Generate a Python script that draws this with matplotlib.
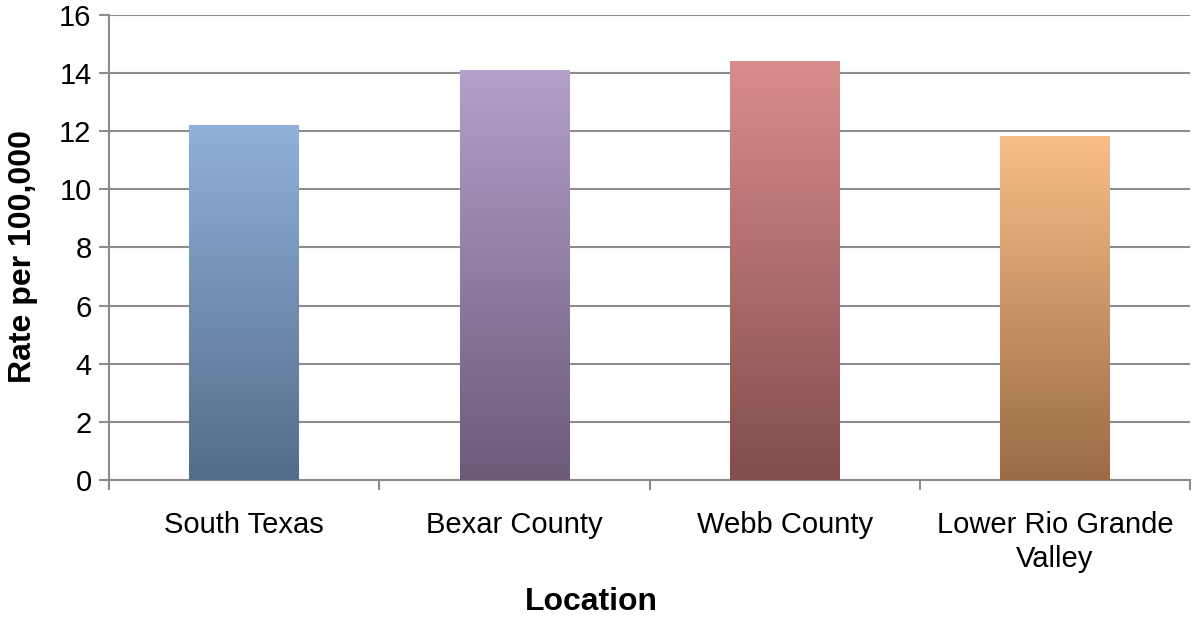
import numpy as np
import matplotlib.pyplot as plt
from matplotlib.colors import LinearSegmentedColormap

plt.rcParams['font.family'] = ['Liberation Sans', 'DejaVu Sans']

locations = ['South Texas', 'Bexar County', 'Webb County', 'Lower Rio Grande\nValley']
rates = [12.2, 14.1, 14.4, 11.8]
top_colors = ['#90b1d9', '#b3a0cc', '#d98d8b', '#f8be88']
bottom_colors = ['#546c8b', '#6b5a78', '#824d4d', '#9a6b45']

fig = plt.figure(figsize=(11.96, 6.21), dpi=100)
ax = fig.add_axes([0.0911, 0.227, 0.904, 0.749])

x = np.arange(len(locations))
width = 0.405
bars = ax.bar(x, rates, width=width, color='none', zorder=3)

grad = np.linspace(0, 1, 256).reshape(-1, 1)
for b, top, bot in zip(bars, top_colors, bottom_colors):
    cmap = LinearSegmentedColormap.from_list('g', [bot, top])
    x0 = b.get_x()
    ax.imshow(grad, cmap=cmap, origin='lower', aspect='auto',
              extent=[x0, x0 + b.get_width(), 0, b.get_height()], zorder=3)

ax.set_xlim(-0.5, len(locations) - 0.5)
ax.set_ylim(0, 16)
ax.set_yticks(range(0, 17, 2))
ax.yaxis.grid(True, color='#8c8c8c', linewidth=1.5, zorder=0)
ax.set_axisbelow(True)

ax.set_xticks(x)
ax.set_xticklabels(locations, fontsize=21, linespacing=1.3)
ax.tick_params(axis='x', length=0, pad=22)
ax.set_xticks(np.arange(-0.5, len(locations)), minor=True)
ax.tick_params(axis='x', which='minor', length=7.5, width=1.5, color='#8c8c8c')
ax.tick_params(axis='y', labelsize=21, length=7.5, width=1.5, color='#8c8c8c', pad=5)

for s in ['top', 'right']:
    ax.spines[s].set_visible(False)
for s in ['left', 'bottom']:
    ax.spines[s].set_color('#8c8c8c')
    ax.spines[s].set_linewidth(1.5)

ax.set_ylabel('Rate per 100,000', fontsize=23, fontweight='bold')
ax.set_xlabel('Location', fontsize=23, fontweight='bold')
ax.yaxis.set_label_coords(-0.066, 0.48)
ax.xaxis.set_label_coords(0.446, -0.23)

fig.savefig('out.png', dpi=100)
